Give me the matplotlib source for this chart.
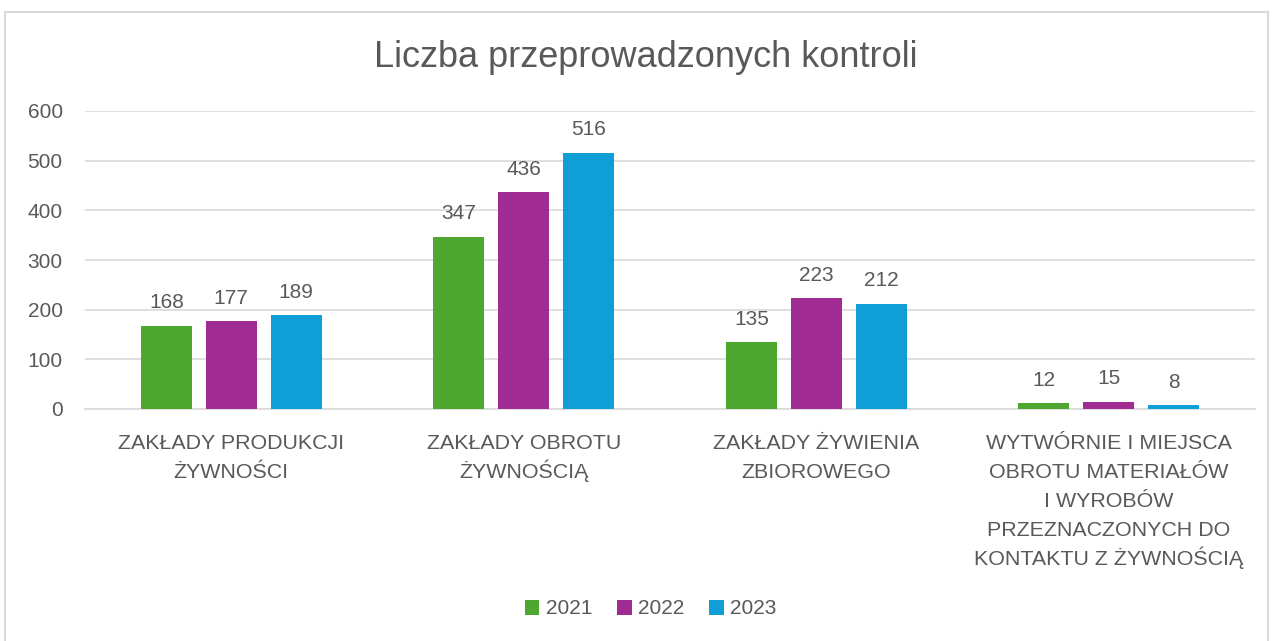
import matplotlib
matplotlib.use("Agg")
import matplotlib.pyplot as plt
from matplotlib.patches import Rectangle
from matplotlib.transforms import blended_transform_factory
import numpy as np

plt.rcParams["font.family"] = ["Liberation Sans", "DejaVu Sans"]

# ===== dane =====
categories = [
    "ZAKŁADY PRODUKCJI\nŻYWNOŚCI",
    "ZAKŁADY OBROTU\nŻYWNOŚCIĄ",
    "ZAKŁADY ŻYWIENIA\nZBIOROWEGO",
    "WYTWÓRNIE I MIEJSCA\nOBROTU MATERIAŁÓW\nI WYROBÓW\nPRZEZNACZONYCH DO\nKONTAKTU Z ŻYWNOŚCIĄ",
]
years = ["2021", "2022", "2023"]
v2021 = [168, 347, 135, 12]
v2022 = [177, 436, 223, 15]
v2023 = [189, 516, 212, 8]
series = [v2021, v2022, v2023]
colors = ["#4EA72E", "#A02B93", "#0F9ED5"]

text_col = "#595959"
grid_col = "#D9D9D9"
W, H = 1273, 641

fig = plt.figure(figsize=(W / 100, H / 100), dpi=100)
ax = fig.add_axes([85 / W, 1 - 409 / H, 1170 / W, 298 / H])

# ramka wykresu
fig.patches.append(Rectangle((5 / W, -0.05), 1263 / W, 1 - 12 / H + 0.05,
                             transform=fig.transFigure, fill=False,
                             edgecolor="#D9D9D9", linewidth=1.5))

x = np.arange(len(categories))
width = 0.175
step = 0.222
for i, (vals, yr, c) in enumerate(zip(series, years, colors)):
    bars = ax.bar(x + (i - 1) * step, vals, width, color=c, label=yr, zorder=3)
    for b, v in zip(bars, vals):
        ax.text(b.get_x() + b.get_width() / 2, v + 35, str(v),
                ha="center", va="baseline", fontsize=15, color=text_col)

ax.set_xlim(-0.5, 3.5)
ax.set_ylim(0, 600)
ax.set_yticks(range(0, 601, 100))
ax.yaxis.grid(True, color=grid_col, linewidth=1.2, zorder=0)
ax.set_axisbelow(True)
for s in ["top", "right", "left"]:
    ax.spines[s].set_visible(False)
ax.spines["bottom"].set_color(grid_col)
ax.spines["bottom"].set_linewidth(1.2)
ax.tick_params(axis="both", length=0, labelsize=15, labelcolor=text_col)
ax.tick_params(axis="y", pad=16)
ax.set_xticks(x)
ax.set_xticklabels([])

# etykiety kategorii - linia po linii, stały odstęp
trans = blended_transform_factory(ax.transData, fig.transFigure)
for xi, cat in zip(x, categories):
    for k, line in enumerate(cat.split("\n")):
        ax.text(xi, 1 - (449 + 29 * k) / H, line, transform=trans,
                ha="center", va="baseline", fontsize=15.4, color=text_col)

fig.text(0.507, 1 - 67 / H, "Liczba przeprowadzonych kontroli",
         ha="center", va="baseline", fontsize=26, color=text_col)

fig.legend(loc="center", bbox_to_anchor=(0.511, 1 - 609 / H), ncol=3,
           frameon=False, fontsize=15, labelcolor=text_col,
           handlelength=0.7, handleheight=0.7, handletextpad=0.3,
           columnspacing=1.2)

plt.savefig("out.png", dpi=100)
plt.close()
